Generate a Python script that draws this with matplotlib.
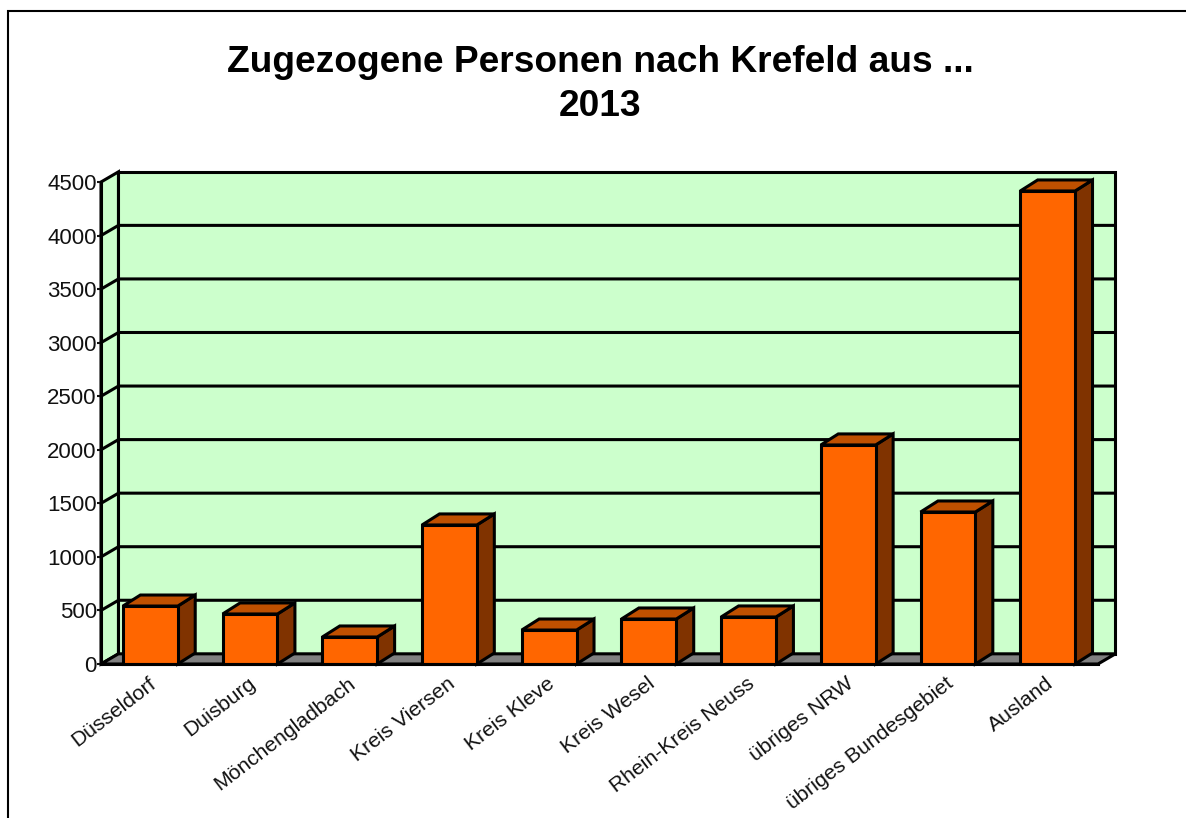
import matplotlib
matplotlib.use("Agg")
from matplotlib import pyplot as plt
from matplotlib.lines import Line2D

plt.rcParams['font.family'] = ['Liberation Sans', 'DejaVu Sans']

title = "Zugezogene Personen nach Krefeld aus ...\n2013"
categories = ["Düsseldorf", "Duisburg", "Mönchengladbach", "Kreis Viersen", "Kreis Kleve",
              "Kreis Wesel", "Rhein-Kreis Neuss", "übriges NRW", "übriges Bundesgebiet", "Ausland"]
values = [541, 467, 252, 1298, 317, 420, 439, 2045, 1419, 4416]
y_ticks = [0, 500, 1000, 1500, 2000, 2500, 3000, 3500, 4000, 4500]

W, H = 1186, 818
LEFT, RIGHT, TOP, BOTTOM = 101, 1098, 182, 664  # front plane in pixels

fig = plt.figure(figsize=(W / 100, H / 100), dpi=100, facecolor='white')
ax = fig.add_axes([LEFT / W, 1 - BOTTOM / H, (RIGHT - LEFT) / W, (BOTTOM - TOP) / H])
ax.set_xlim(0, len(categories))
ax.set_ylim(0, 4500)
ax.patch.set_visible(False)

# depth of the fake 3d box, in data units
wall_dx, wall_dy = 0.175, 95
bar_dx, bar_dy = 0.175, 103
bar_w = 0.55
bar_shift = 0.495
n = len(categories)
edge = dict(edgecolor='black', linewidth=2.2, clip_on=False, joinstyle='miter')

# walls and floor
ax.fill([wall_dx, n + wall_dx, n + wall_dx, wall_dx],
        [wall_dy, wall_dy, 4500 + wall_dy, 4500 + wall_dy], facecolor='#CCFFCC', zorder=1, **edge)
ax.fill([0, wall_dx, wall_dx, 0], [0, wall_dy, 4500 + wall_dy, 4500], facecolor='#CCFFCC', zorder=1, **edge)
ax.fill([0, n, n + wall_dx, wall_dx], [0, 0, wall_dy, wall_dy], facecolor='#808080', zorder=2, **edge)

# gridlines on the back wall and left wall
for t in y_ticks[1:-1]:
    ax.plot([0, wall_dx, n + wall_dx], [t, t + wall_dy, t + wall_dy], color='black', lw=2.2,
            clip_on=False, zorder=1.5, solid_joinstyle='miter')

# bars
for i, v in enumerate(values):
    x0 = i + bar_shift - bar_w / 2
    x1 = x0 + bar_w
    ax.fill([x1, x1 + bar_dx, x1 + bar_dx, x1], [0, bar_dy, v + bar_dy, v], facecolor='#803300', zorder=3, **edge)
    ax.fill([x0, x0 + bar_dx, x1 + bar_dx, x1], [v, v + bar_dy, v + bar_dy, v], facecolor='#BF5000', zorder=3, **edge)
ax.bar([i + bar_shift for i in range(n)], values, width=bar_w, color='#FF6600', zorder=4, **edge)

for side in ['top', 'right']:
    ax.spines[side].set_visible(False)
for side in ['left', 'bottom']:
    ax.spines[side].set_linewidth(2.2)
    ax.spines[side].set_zorder(5)

ax.set_yticks(y_ticks)
ax.tick_params(axis='y', length=3, width=1.5, pad=0, labelsize=16, colors='#111111')
ax.set_xticks([i + 0.47 for i in range(n)])
ax.set_xticklabels(categories, rotation=37.5, ha='right', rotation_mode='anchor', fontsize=15.2, color='#111111')
ax.tick_params(axis='x', length=0, pad=7)

fig.text(600 / W, 1 - 84.5 / H, title, ha='center', va='center', fontsize=26.7, fontweight='bold',
         linespacing=1.32, color='black')

# outer frame, only left and top show
fig.add_artist(Line2D([8 / W, 8 / W, 1], [0, 1 - 11 / H, 1 - 11 / H], color='black', lw=1.5,
                      solid_joinstyle='miter'))

fig.savefig('out.png', dpi=100)
